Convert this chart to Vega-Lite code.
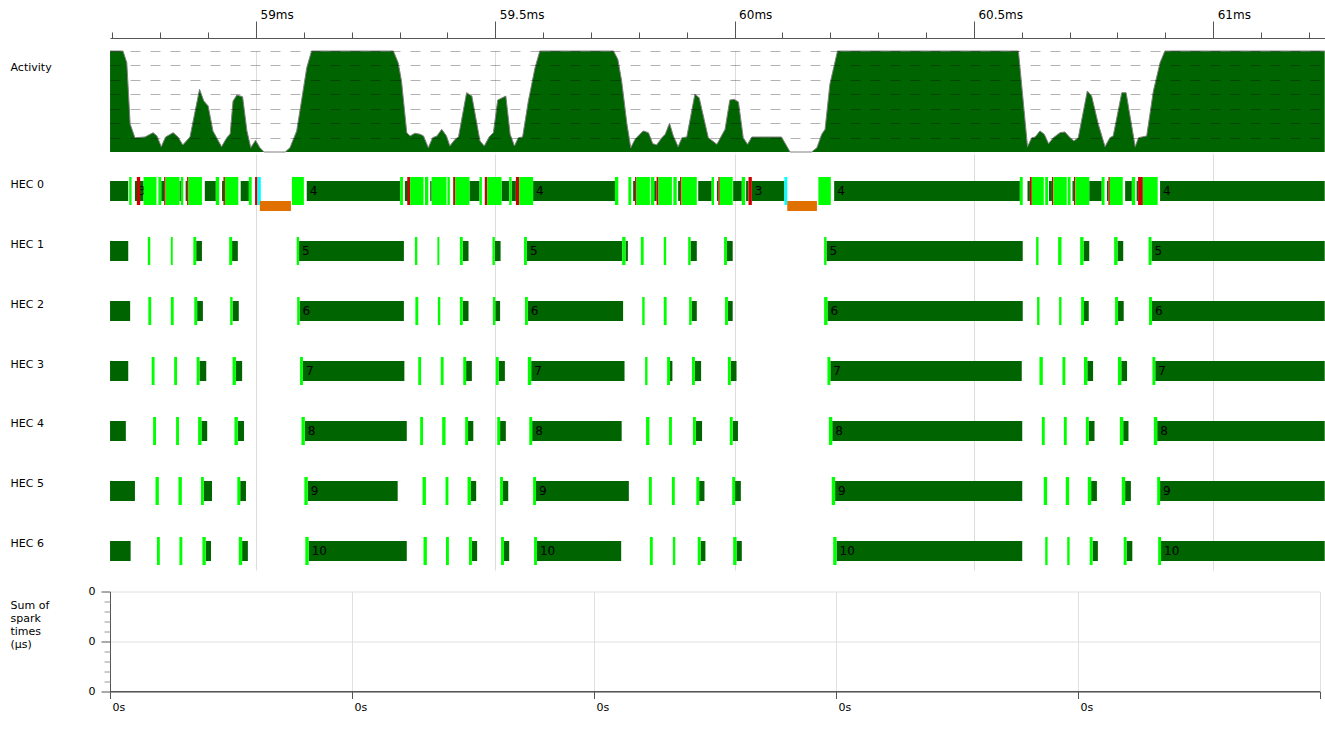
{
"$schema": "https://vega.github.io/schema/vega-lite/v6.json",
"padding": {"left": 10, "top": 8, "right": 0, "bottom": 5},
"background": "white",
"config": {"view": {"stroke": null}, "font": "DejaVu Sans", "axis": {"labelFont": "DejaVu Sans", "titleFont": "DejaVu Sans"}, "text": {"font": "DejaVu Sans"}},
"datasets": {
"activity": [
{"t":58695,"v":7},{"t":58722,"v":7},{"t":58730,"v":6.19},{"t":58737,"v":1.94},{"t":58747,"v":0.99},{"t":58768,"v":1.04},{"t":58785,"v":1.34},{"t":58793,"v":1.11},{"t":58802,"v":0.37},{"t":58811,"v":1.04},{"t":58827,"v":1.34},{"t":58837,"v":1.04},{"t":58847,"v":0.49},{"t":58862,"v":1.04},{"t":58882,"v":4.35},{"t":58891,"v":3.53},{"t":58900,"v":3.19},{"t":58910,"v":1.46},{"t":58928,"v":0.37},{"t":58939,"v":0.99},{"t":58946,"v":1.25},{"t":58952,"v":3.53},{"t":58960,"v":3.95},{"t":58972,"v":3.83},{"t":58981,"v":1.46},{"t":58989,"v":0.3},{"t":58999,"v":0.81},{"t":59008,"v":0.3},{"t":59017,"v":0},{"t":59061,"v":0},{"t":59071,"v":0.3},{"t":59085,"v":1.46},{"t":59095,"v":3.53},{"t":59106,"v":5.84},{"t":59116,"v":7},{"t":59287,"v":7},{"t":59297,"v":6.19},{"t":59304,"v":4.92},{"t":59315,"v":1.34},{"t":59322,"v":1.11},{"t":59332,"v":1.3},{"t":59343,"v":1.23},{"t":59350,"v":1.11},{"t":59360,"v":0.3},{"t":59369,"v":0.99},{"t":59378,"v":1.11},{"t":59388,"v":1.57},{"t":59398,"v":1.11},{"t":59405,"v":0.42},{"t":59416,"v":0.88},{"t":59423,"v":1.04},{"t":59440,"v":4.11},{"t":59451,"v":3.88},{"t":59468,"v":0.76},{"t":59477,"v":0.42},{"t":59487,"v":1.04},{"t":59496,"v":1.34},{"t":59505,"v":3.6},{"t":59522,"v":3.88},{"t":59531,"v":1.23},{"t":59540,"v":0.42},{"t":59548,"v":0.99},{"t":59557,"v":1.04},{"t":59569,"v":3.53},{"t":59583,"v":5.84},{"t":59593,"v":7},{"t":59747,"v":7},{"t":59756,"v":6.42},{"t":59764,"v":4.92},{"t":59775,"v":1.94},{"t":59783,"v":0.3},{"t":59792,"v":0.88},{"t":59809,"v":1.46},{"t":59820,"v":1.34},{"t":59829,"v":0.58},{"t":59837,"v":0.49},{"t":59848,"v":0.99},{"t":59855,"v":1.23},{"t":59864,"v":1.99},{"t":59872,"v":1.11},{"t":59882,"v":0.37},{"t":59890,"v":0.99},{"t":59900,"v":1.04},{"t":59917,"v":4.0},{"t":59926,"v":3.76},{"t":59945,"v":0.99},{"t":59963,"v":0.53},{"t":59980,"v":1.57},{"t":59990,"v":3.6},{"t":59999,"v":3.65},{"t":60008,"v":3.47},{"t":60018,"v":0.99},{"t":60027,"v":0.53},{"t":60036,"v":1.04},{"t":60098,"v":1.04},{"t":60116,"v":0},{"t":60161,"v":0},{"t":60172,"v":0.3},{"t":60182,"v":1.23},{"t":60189,"v":1.57},{"t":60199,"v":4.69},{"t":60215,"v":7},{"t":60593,"v":7},{"t":60603,"v":3.53},{"t":60612,"v":0.37},{"t":60621,"v":0.99},{"t":60628,"v":1.04},{"t":60638,"v":1.46},{"t":60647,"v":1.23},{"t":60656,"v":0.58},{"t":60666,"v":0.99},{"t":60680,"v":1.34},{"t":60690,"v":1.39},{"t":60701,"v":0.99},{"t":60709,"v":0.76},{"t":60718,"v":0.99},{"t":60737,"v":4.23},{"t":60746,"v":3.88},{"t":60760,"v":1.92},{"t":60774,"v":0.37},{"t":60784,"v":0.99},{"t":60791,"v":1.11},{"t":60809,"v":4.11},{"t":60818,"v":4.11},{"t":60837,"v":0.37},{"t":60844,"v":0.99},{"t":60861,"v":1.11},{"t":60875,"v":4.23},{"t":60889,"v":6.19},{"t":60899,"v":7},{"t":61233,"v":7}
],
"hec": [
{"h":0,"k":"run","s":58695,"e":58733},{"h":0,"k":"spark","s":58735,"e":58740},{"h":0,"k":"run","s":58747,"e":58765,"l":"3"},{"h":0,"k":"red","s":58751,"e":58758},{"h":0,"k":"spark","s":58765,"e":58792},{"h":0,"k":"spark","s":58796,"e":58802},{"h":0,"k":"run","s":58802,"e":58808},{"h":0,"k":"red","s":58808,"e":58811},{"h":0,"k":"spark","s":58811,"e":58840},{"h":0,"k":"run","s":58840,"e":58843},{"h":0,"k":"spark","s":58843,"e":58848},{"h":0,"k":"run","s":58853,"e":58856},{"h":0,"k":"red","s":58856,"e":58859},{"h":0,"k":"spark","s":58859,"e":58887},{"h":0,"k":"run","s":58893,"e":58916},{"h":0,"k":"spark","s":58916,"e":58923},{"h":0,"k":"run","s":58929,"e":58935},{"h":0,"k":"red","s":58932,"e":58935},{"h":0,"k":"spark","s":58935,"e":58963},{"h":0,"k":"run","s":58968,"e":58985},{"h":0,"k":"spark","s":58985,"e":58991},{"h":0,"k":"red","s":58998,"e":59003},{"h":0,"k":"cyan","s":59003,"e":59010},{"h":0,"k":"gc","s":59008,"e":59073},{"h":0,"k":"spark","s":59075,"e":59100},{"h":0,"k":"run","s":59106,"e":59301,"l":"4"},{"h":0,"k":"spark","s":59301,"e":59307},{"h":0,"k":"run","s":59311,"e":59322},{"h":0,"k":"red","s":59316,"e":59322},{"h":0,"k":"spark","s":59322,"e":59350},{"h":0,"k":"spark","s":59353,"e":59360},{"h":0,"k":"run","s":59364,"e":59367},{"h":0,"k":"spark","s":59367,"e":59398},{"h":0,"k":"spark","s":59400,"e":59405},{"h":0,"k":"red","s":59412,"e":59416},{"h":0,"k":"spark","s":59416,"e":59446},{"h":0,"k":"run","s":59446,"e":59467},{"h":0,"k":"spark","s":59467,"e":59472},{"h":0,"k":"red","s":59478,"e":59483},{"h":0,"k":"spark","s":59483,"e":59513},{"h":0,"k":"run","s":59513,"e":59529},{"h":0,"k":"spark","s":59529,"e":59534},{"h":0,"k":"run","s":59534,"e":59543},{"h":0,"k":"red","s":59543,"e":59550},{"h":0,"k":"spark","s":59550,"e":59579},{"h":0,"k":"run","s":59579,"e":59750,"l":"4"},{"h":0,"k":"spark","s":59750,"e":59757},{"h":0,"k":"spark","s":59778,"e":59784},{"h":0,"k":"run","s":59788,"e":59792},{"h":0,"k":"red","s":59792,"e":59795},{"h":0,"k":"spark","s":59795,"e":59823},{"h":0,"k":"spark","s":59825,"e":59832},{"h":0,"k":"run","s":59832,"e":59837},{"h":0,"k":"red","s":59837,"e":59841},{"h":0,"k":"spark","s":59841,"e":59869},{"h":0,"k":"spark","s":59872,"e":59879},{"h":0,"k":"run","s":59882,"e":59886},{"h":0,"k":"red","s":59886,"e":59889},{"h":0,"k":"spark","s":59889,"e":59921},{"h":0,"k":"run","s":59924,"e":59952},{"h":0,"k":"spark","s":59952,"e":59957},{"h":0,"k":"run","s":59963,"e":59966},{"h":0,"k":"red","s":59966,"e":59969},{"h":0,"k":"spark","s":59969,"e":59996},{"h":0,"k":"run","s":59997,"e":60015},{"h":0,"k":"spark","s":60015,"e":60022},{"h":0,"k":"run","s":60024,"e":60029},{"h":0,"k":"red","s":60029,"e":60036},{"h":0,"k":"run","s":60036,"e":60104,"l":"3"},{"h":0,"k":"cyan","s":60104,"e":60110},{"h":0,"k":"gc","s":60110,"e":60172},{"h":0,"k":"spark","s":60175,"e":60201},{"h":0,"k":"run","s":60208,"e":60596,"l":"4"},{"h":0,"k":"spark","s":60596,"e":60602},{"h":0,"k":"run","s":60612,"e":60617},{"h":0,"k":"red","s":60617,"e":60621},{"h":0,"k":"spark","s":60621,"e":60646},{"h":0,"k":"spark","s":60649,"e":60655},{"h":0,"k":"run","s":60657,"e":60663},{"h":0,"k":"red","s":60663,"e":60666},{"h":0,"k":"spark","s":60666,"e":60694},{"h":0,"k":"spark","s":60696,"e":60702},{"h":0,"k":"run","s":60706,"e":60709},{"h":0,"k":"red","s":60709,"e":60712},{"h":0,"k":"spark","s":60712,"e":60741},{"h":0,"k":"run","s":60741,"e":60767},{"h":0,"k":"spark","s":60767,"e":60773},{"h":0,"k":"run","s":60778,"e":60781},{"h":0,"k":"red","s":60781,"e":60784},{"h":0,"k":"spark","s":60784,"e":60811},{"h":0,"k":"run","s":60816,"e":60830},{"h":0,"k":"spark","s":60830,"e":60837},{"h":0,"k":"run","s":60840,"e":60843},{"h":0,"k":"red","s":60843,"e":60853},{"h":0,"k":"spark","s":60853,"e":60884},{"h":0,"k":"run","s":60889,"e":61233,"l":"4"},
{"h":1,"k":"run","s":58695,"e":58733},{"h":1,"k":"spark","s":58774,"e":58779},{"h":1,"k":"spark","s":58822,"e":58826},{"h":1,"k":"spark","s":58869,"e":58875},{"h":1,"k":"run","s":58875,"e":58887},{"h":1,"k":"spark","s":58944,"e":58950},{"h":1,"k":"run","s":58950,"e":58962},{"h":1,"k":"spark","s":59085,"e":59090},{"h":1,"k":"run","s":59090,"e":59309,"l":"5"},{"h":1,"k":"spark","s":59332,"e":59337},{"h":1,"k":"spark","s":59379,"e":59383},{"h":1,"k":"spark","s":59426,"e":59432},{"h":1,"k":"run","s":59432,"e":59444},{"h":1,"k":"spark","s":59494,"e":59499},{"h":1,"k":"run","s":59499,"e":59511},{"h":1,"k":"spark","s":59560,"e":59566},{"h":1,"k":"run","s":59566,"e":59765,"l":"5"},{"h":1,"k":"spark","s":59765,"e":59772},{"h":1,"k":"run","s":59772,"e":59777},{"h":1,"k":"spark","s":59804,"e":59810},{"h":1,"k":"spark","s":59852,"e":59857},{"h":1,"k":"spark","s":59903,"e":59908},{"h":1,"k":"run","s":59908,"e":59921},{"h":1,"k":"spark","s":59978,"e":59984},{"h":1,"k":"run","s":59984,"e":59996},{"h":1,"k":"spark","s":60187,"e":60192},{"h":1,"k":"run","s":60192,"e":60602,"l":"5"},{"h":1,"k":"spark","s":60630,"e":60635},{"h":1,"k":"spark","s":60676,"e":60683},{"h":1,"k":"spark","s":60722,"e":60729},{"h":1,"k":"run","s":60729,"e":60741},{"h":1,"k":"spark","s":60793,"e":60800},{"h":1,"k":"run","s":60800,"e":60812},{"h":1,"k":"spark","s":60865,"e":60871},{"h":1,"k":"run","s":60871,"e":61233,"l":"5"},
{"h":2,"k":"run","s":58695,"e":58737},{"h":2,"k":"spark","s":58775,"e":58781},{"h":2,"k":"spark","s":58822,"e":58828},{"h":2,"k":"spark","s":58871,"e":58877},{"h":2,"k":"run","s":58877,"e":58889},{"h":2,"k":"spark","s":58946,"e":58951},{"h":2,"k":"run","s":58951,"e":58964},{"h":2,"k":"spark","s":59086,"e":59091},{"h":2,"k":"run","s":59091,"e":59309,"l":"6"},{"h":2,"k":"spark","s":59333,"e":59339},{"h":2,"k":"spark","s":59380,"e":59385},{"h":2,"k":"spark","s":59426,"e":59432},{"h":2,"k":"run","s":59432,"e":59444},{"h":2,"k":"spark","s":59495,"e":59500},{"h":2,"k":"run","s":59500,"e":59510},{"h":2,"k":"spark","s":59562,"e":59568},{"h":2,"k":"run","s":59568,"e":59767,"l":"6"},{"h":2,"k":"spark","s":59807,"e":59812},{"h":2,"k":"spark","s":59852,"e":59858},{"h":2,"k":"spark","s":59905,"e":59910},{"h":2,"k":"run","s":59910,"e":59921},{"h":2,"k":"spark","s":59980,"e":59986},{"h":2,"k":"run","s":59986,"e":59996},{"h":2,"k":"spark","s":60187,"e":60194},{"h":2,"k":"run","s":60194,"e":60602,"l":"6"},{"h":2,"k":"spark","s":60632,"e":60637},{"h":2,"k":"spark","s":60678,"e":60683},{"h":2,"k":"spark","s":60724,"e":60730},{"h":2,"k":"run","s":60730,"e":60740},{"h":2,"k":"spark","s":60795,"e":60801},{"h":2,"k":"run","s":60801,"e":60813},{"h":2,"k":"spark","s":60866,"e":60872},{"h":2,"k":"run","s":60872,"e":61233,"l":"6"},
{"h":3,"k":"run","s":58695,"e":58733},{"h":3,"k":"spark","s":58782,"e":58788},{"h":3,"k":"spark","s":58829,"e":58835},{"h":3,"k":"spark","s":58876,"e":58882},{"h":3,"k":"run","s":58882,"e":58896},{"h":3,"k":"spark","s":58951,"e":58958},{"h":3,"k":"run","s":58958,"e":58971},{"h":3,"k":"spark","s":59092,"e":59098},{"h":3,"k":"run","s":59098,"e":59310,"l":"7"},{"h":3,"k":"spark","s":59339,"e":59345},{"h":3,"k":"spark","s":59386,"e":59392},{"h":3,"k":"spark","s":59433,"e":59439},{"h":3,"k":"run","s":59439,"e":59451},{"h":3,"k":"spark","s":59501,"e":59507},{"h":3,"k":"run","s":59507,"e":59520},{"h":3,"k":"spark","s":59568,"e":59575},{"h":3,"k":"run","s":59575,"e":59770,"l":"7"},{"h":3,"k":"spark","s":59813,"e":59818},{"h":3,"k":"spark","s":59859,"e":59865},{"h":3,"k":"run","s":59865,"e":59870},{"h":3,"k":"spark","s":59911,"e":59917},{"h":3,"k":"run","s":59917,"e":59930},{"h":3,"k":"spark","s":59986,"e":59992},{"h":3,"k":"run","s":59992,"e":60004},{"h":3,"k":"spark","s":60194,"e":60200},{"h":3,"k":"run","s":60200,"e":60600,"l":"7"},{"h":3,"k":"spark","s":60637,"e":60644},{"h":3,"k":"spark","s":60685,"e":60691},{"h":3,"k":"spark","s":60730,"e":60737},{"h":3,"k":"run","s":60737,"e":60749},{"h":3,"k":"spark","s":60801,"e":60808},{"h":3,"k":"run","s":60808,"e":60820},{"h":3,"k":"spark","s":60873,"e":60879},{"h":3,"k":"run","s":60879,"e":61233,"l":"7"},
{"h":4,"k":"run","s":58695,"e":58728},{"h":4,"k":"spark","s":58785,"e":58791},{"h":4,"k":"spark","s":58833,"e":58839},{"h":4,"k":"spark","s":58879,"e":58886},{"h":4,"k":"run","s":58886,"e":58898},{"h":4,"k":"spark","s":58955,"e":58962},{"h":4,"k":"run","s":58962,"e":58975},{"h":4,"k":"spark","s":59095,"e":59102},{"h":4,"k":"run","s":59102,"e":59315,"l":"8"},{"h":4,"k":"spark","s":59343,"e":59349},{"h":4,"k":"spark","s":59389,"e":59396},{"h":4,"k":"spark","s":59437,"e":59443},{"h":4,"k":"run","s":59443,"e":59454},{"h":4,"k":"spark","s":59504,"e":59510},{"h":4,"k":"run","s":59510,"e":59522},{"h":4,"k":"spark","s":59571,"e":59577},{"h":4,"k":"run","s":59577,"e":59764,"l":"8"},{"h":4,"k":"spark","s":59815,"e":59822},{"h":4,"k":"spark","s":59863,"e":59869},{"h":4,"k":"spark","s":59913,"e":59919},{"h":4,"k":"run","s":59919,"e":59932},{"h":4,"k":"spark","s":59990,"e":59996},{"h":4,"k":"run","s":59996,"e":60007},{"h":4,"k":"spark","s":60197,"e":60204},{"h":4,"k":"run","s":60204,"e":60601,"l":"8"},{"h":4,"k":"spark","s":60642,"e":60648},{"h":4,"k":"spark","s":60688,"e":60694},{"h":4,"k":"spark","s":60734,"e":60740},{"h":4,"k":"run","s":60740,"e":60752},{"h":4,"k":"spark","s":60805,"e":60812},{"h":4,"k":"run","s":60812,"e":60823},{"h":4,"k":"spark","s":60876,"e":60883},{"h":4,"k":"run","s":60883,"e":61233,"l":"8"},
{"h":5,"k":"run","s":58695,"e":58747},{"h":5,"k":"spark","s":58790,"e":58797},{"h":5,"k":"spark","s":58838,"e":58845},{"h":5,"k":"spark","s":58885,"e":58891},{"h":5,"k":"run","s":58891,"e":58908},{"h":5,"k":"spark","s":58961,"e":58967},{"h":5,"k":"run","s":58967,"e":58979},{"h":5,"k":"spark","s":59101,"e":59108},{"h":5,"k":"run","s":59108,"e":59296,"l":"9"},{"h":5,"k":"spark","s":59348,"e":59355},{"h":5,"k":"spark","s":59396,"e":59402},{"h":5,"k":"spark","s":59442,"e":59449},{"h":5,"k":"run","s":59449,"e":59460},{"h":5,"k":"spark","s":59510,"e":59516},{"h":5,"k":"run","s":59516,"e":59527},{"h":5,"k":"spark","s":59579,"e":59585},{"h":5,"k":"run","s":59585,"e":59779,"l":"9"},{"h":5,"k":"spark","s":59821,"e":59827},{"h":5,"k":"spark","s":59869,"e":59875},{"h":5,"k":"spark","s":59920,"e":59926},{"h":5,"k":"run","s":59926,"e":59937},{"h":5,"k":"spark","s":59995,"e":60001},{"h":5,"k":"run","s":60001,"e":60013},{"h":5,"k":"spark","s":60203,"e":60210},{"h":5,"k":"run","s":60210,"e":60601,"l":"9"},{"h":5,"k":"spark","s":60646,"e":60653},{"h":5,"k":"spark","s":60692,"e":60699},{"h":5,"k":"spark","s":60738,"e":60745},{"h":5,"k":"run","s":60745,"e":60757},{"h":5,"k":"spark","s":60809,"e":60816},{"h":5,"k":"run","s":60816,"e":60828},{"h":5,"k":"spark","s":60883,"e":60889},{"h":5,"k":"run","s":60889,"e":61233,"l":"9"},
{"h":6,"k":"run","s":58695,"e":58738},{"h":6,"k":"spark","s":58793,"e":58799},{"h":6,"k":"spark","s":58840,"e":58846},{"h":6,"k":"spark","s":58888,"e":58895},{"h":6,"k":"run","s":58895,"e":58906},{"h":6,"k":"spark","s":58964,"e":58971},{"h":6,"k":"run","s":58971,"e":58983},{"h":6,"k":"spark","s":59103,"e":59110},{"h":6,"k":"run","s":59110,"e":59315,"l":"10"},{"h":6,"k":"spark","s":59350,"e":59357},{"h":6,"k":"spark","s":59397,"e":59403},{"h":6,"k":"spark","s":59445,"e":59451},{"h":6,"k":"run","s":59451,"e":59462},{"h":6,"k":"spark","s":59512,"e":59518},{"h":6,"k":"run","s":59518,"e":59529},{"h":6,"k":"spark","s":59581,"e":59587},{"h":6,"k":"run","s":59587,"e":59763,"l":"10"},{"h":6,"k":"spark","s":59823,"e":59829},{"h":6,"k":"spark","s":59871,"e":59876},{"h":6,"k":"spark","s":59923,"e":59929},{"h":6,"k":"run","s":59929,"e":59939},{"h":6,"k":"spark","s":59997,"e":60004},{"h":6,"k":"run","s":60004,"e":60015},{"h":6,"k":"spark","s":60206,"e":60213},{"h":6,"k":"run","s":60213,"e":60601,"l":"10"},{"h":6,"k":"spark","s":60649,"e":60654},{"h":6,"k":"spark","s":60695,"e":60700},{"h":6,"k":"spark","s":60742,"e":60748},{"h":6,"k":"run","s":60748,"e":60759},{"h":6,"k":"spark","s":60813,"e":60819},{"h":6,"k":"run","s":60819,"e":60831},{"h":6,"k":"spark","s":60885,"e":60891},{"h":6,"k":"run","s":60891,"e":61233,"l":"10"}
],
"sparks": [{"t":0,"sum":0},{"t":1,"sum":0},{"t":2,"sum":0},{"t":3,"sum":0},{"t":4,"sum":0},{"t":5,"sum":0}]
},
"spacing": 15.5,
"vconcat": [
{"spacing": 0, "vconcat": [
{
"width": 1215, "height": 101,
"data": {"name": "activity"},
"layer": [
{"mark": {"type": "area", "color": "#006400"},
 "encoding": {
  "x": {"field": "t", "type": "quantitative", "scale": {"domain": [58694.9, 61233.6], "nice": false, "zero": false},
        "axis": {"orient": "top", "values": [59000, 59500, 60000, 60500, 61000], "labelExpr": "datum.value / 1000 + 'ms'", "title": null, "offset": 13, "tickSize": 17, "tickColor": "#555555", "domainColor": "#555555", "labelAlign": "left", "labelBaseline": "alphabetic", "labelPadding": 3, "labelOffset": 4, "labelFontSize": 12, "labelColor": "black", "labelFlush": false, "labelOverlap": false, "grid": true, "gridColor": "#dddddd"}},
  "y": {"field": "v", "type": "quantitative", "scale": {"domain": [0, 7], "nice": false},
        "axis": {"values": [1, 2, 3, 4, 5, 6, 7], "labels": false, "ticks": false, "domain": false, "grid": true, "gridColor": "black", "gridOpacity": 0.3, "gridDash": [10, 10], "zindex": 1, "title": "Activity", "titleAngle": 0, "titleAlign": "left", "titleBaseline": "alphabetic", "titleX": -100, "titleY": 19, "titleFontSize": 11, "titleFontWeight": "normal", "titleColor": "black"}}
 }},
{"mark": {"type": "line", "color": "#808080", "strokeWidth": 1},
 "encoding": {
  "x": {"field": "t", "type": "quantitative", "scale": {"domain": [58694.9, 61233.6], "nice": false, "zero": false},
        "axis": {"orient": "top", "values": [58700,58800,58900,59000,59100,59200,59300,59400,59500,59600,59700,59800,59900,60000,60100,60200,60300,60400,60500,60600,60700,60800,60900,61000,61100,61200], "labels": false, "domain": false, "grid": false, "tickSize": 6, "tickColor": "#555555", "offset": 13, "title": null}},
  "y": {"field": "v", "type": "quantitative", "scale": {"domain": [0, 7], "nice": false},
        "axis": {"values": [1, 2, 3, 4, 5, 6, 7], "labels": false, "ticks": false, "domain": false, "grid": true, "gridColor": "black", "gridOpacity": 0.3, "gridDash": [10, 10], "zindex": 1, "title": "Activity", "titleAngle": 0, "titleAlign": "left", "titleBaseline": "alphabetic", "titleX": -100, "titleY": 19, "titleFontSize": 11, "titleFontWeight": "normal", "titleColor": "black"}}
 }}
],
"resolve": {"axis": {"x": "independent"}}
},
{
"width": 1215, "height": 416,
"data": {"name": "hec"},
"encoding": {
 "x": {"field": "s", "type": "quantitative", "scale": {"domain": [58694.9, 61233.6], "nice": false, "zero": false, "padding": 0},
       "axis": {"values": [59000, 59500, 60000, 60500, 61000], "labels": false, "ticks": false, "domain": false, "grid": true, "gridColor": "#dddddd", "title": null}},
 "y": {"field": "h", "type": "quantitative", "scale": {"domain": [-0.61667, 6.31667], "nice": false, "zero": false, "reverse": true, "padding": 0},
       "axis": {"values": [0, 1, 2, 3, 4, 5, 6], "labelExpr": "'HEC ' + datum.value", "ticks": false, "tickSize": 0, "domain": false, "grid": false, "labelAlign": "left", "labelPadding": 100, "labelBaseline": "alphabetic", "labelOffset": -4, "labelFontSize": 11, "labelColor": "black", "title": null}}
},
"layer": [
 {"transform": [{"filter": "datum.k === 'run'"}], "mark": {"type": "bar", "height": 20, "color": "#006400"}, "encoding": {"x2": {"field": "e"}}},
 {"transform": [{"filter": "datum.l != null"}], "mark": {"type": "text", "align": "left", "baseline": "middle", "dx": 3, "fontSize": 12, "color": "black"}, "encoding": {"text": {"field": "l"}}},
 {"transform": [{"filter": "datum.k === 'spark' || datum.k === 'red' || datum.k === 'cyan'"}], "mark": {"type": "bar", "height": 28}, "encoding": {"x2": {"field": "e"}, "color": {"field": "k", "type": "nominal", "scale": {"domain": ["spark", "red", "cyan"], "range": ["#00ff00", "#cc0000", "#00ffff"]}, "legend": null}}},
 {"transform": [{"filter": "datum.k === 'gc'"}], "mark": {"type": "bar", "height": 10, "yOffset": 15, "color": "#e07000"}, "encoding": {"x2": {"field": "e"}}}
]
}
]},
{
"width": 1210, "height": 100,
"data": {"name": "sparks"},
"layer": [
{"mark": {"type": "line", "color": "#555555", "strokeWidth": 1},
 "encoding": {
  "x": {"field": "t", "type": "quantitative", "scale": {"domain": [0, 5], "nice": false},
        "axis": {"values": [0, 1, 2, 3, 4, 5], "labelExpr": "datum.value < 5 ? '0s' : ''", "tickSize": 7, "tickColor": "#555555", "domainColor": "#555555", "labelAlign": "left", "labelPadding": 3, "labelOffset": 2, "labelFontSize": 11, "labelColor": "black", "labelFlush": false, "grid": true, "gridColor": "#e0e0e0", "title": null}},
  "y": {"field": "sum", "type": "quantitative", "scale": {"domain": [0, 2], "nice": false},
        "axis": {"orient": "left", "values": [0, 1, 2], "labelExpr": "'0'", "tickSize": 9, "tickColor": "#555555", "domainColor": "#555555", "labelPadding": 6, "labelFontSize": 11, "labelColor": "black", "labelFlush": false, "grid": true, "gridColor": "#e0e0e0", "title": ["Sum of", "spark", "times", "(µs)"], "titleAngle": 0, "titleAlign": "left", "titleBaseline": "alphabetic", "titleX": -100, "titleY": 17, "titleFontSize": 11, "titleFontWeight": "normal", "titleLineHeight": 13, "titleColor": "black"}}
 }},
{"mark": {"type": "line", "color": "#555555", "strokeWidth": 1},
 "encoding": {
  "x": {"field": "t", "type": "quantitative"},
  "y": {"field": "sum", "type": "quantitative", "axis": {"orient": "left", "values": [0.2, 0.4, 0.6, 0.8, 1.2, 1.4, 1.6, 1.8], "labels": false, "domain": false, "grid": false, "tickSize": 6, "tickColor": "#999999", "title": null}}
 }}
],
"resolve": {"axis": {"y": "independent"}}
}
]
}
